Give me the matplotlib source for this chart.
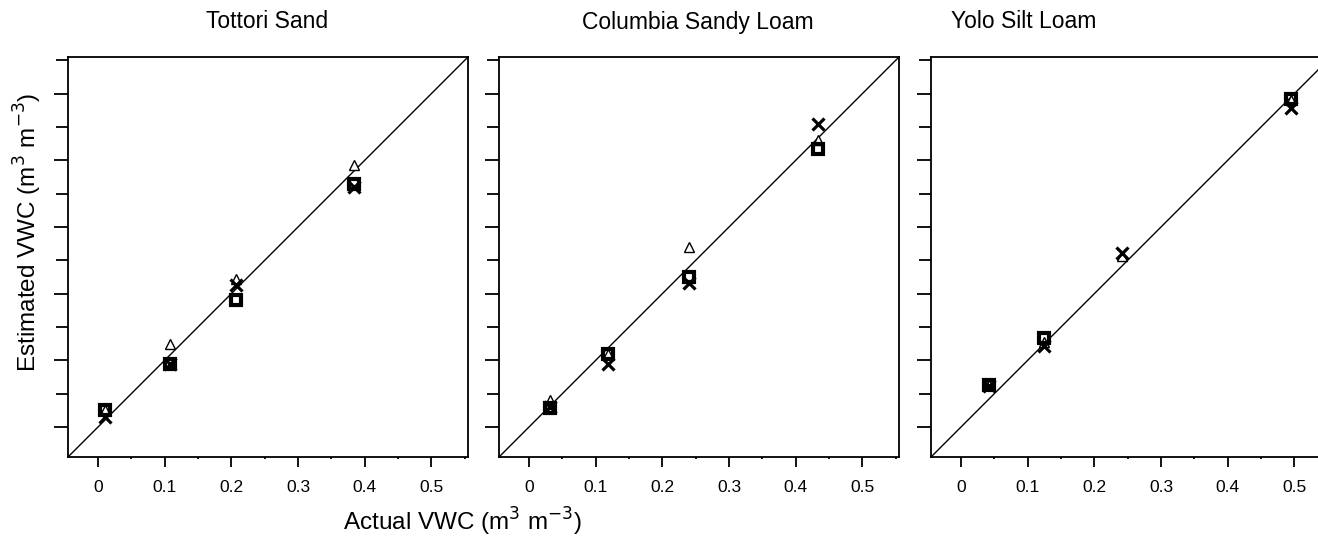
import matplotlib
matplotlib.use("Agg")
import matplotlib.pyplot as plt
import numpy as np
from matplotlib.ticker import MultipleLocator

plt.rcParams['font.family'] = ['Liberation Sans', 'DejaVu Sans']

soils = ["Tottori Sand", "Columbia Sandy Loam", "Yolo Silt Loam"]

# actual VWC for each soil
actual = [
    [0.0105, 0.108, 0.207, 0.3845],
    [0.0315, 0.118, 0.2405, 0.433],
    [0.0415, 0.124, 0.242, 0.4945],
]
# estimated VWC, one list per method
est_square = [
    [0.026, 0.094, 0.190, 0.365],
    [0.029, 0.109, 0.225, 0.417],
    [0.0635, 0.134, np.nan, 0.4925],
]
est_cross = [
    [0.015, 0.094, 0.2125, 0.360],
    [0.030, 0.095, 0.216, 0.454],
    [0.062, 0.121, 0.261, 0.479],
]
est_triangle = [
    [0.025, 0.125, 0.2225, 0.3925],
    [0.040, 0.109, 0.270, 0.430],
    [0.063, 0.128, 0.256, 0.490],
]

xtick_vals = [0, 0.1, 0.2, 0.3, 0.4, 0.5]
xtick_labels = ["0", "0.1", "0.2", "0.3", "0.4", "0.5"]
lims = (-0.045, 0.555)

W, H = 1318, 538
fig = plt.figure(figsize=(W / 100, H / 100), dpi=100)

lefts = [68, 499, 931]
title_x = [267, 698, 1024]
for i in range(3):
    ax = fig.add_axes([lefts[i] / W, (H - 457) / H, 400 / W, 400 / H])
    ax.plot(lims, lims, color='black', lw=1.0, zorder=1)
    ax.plot(actual[i], est_triangle[i], linestyle='none', marker='^', ms=7.5,
            mfc='white', mec='black', mew=1.0, zorder=2)
    ax.plot(actual[i], est_square[i], linestyle='none', marker='s', ms=7.5,
            mfc='none', mec='black', mew=3.0, zorder=3)
    ax.plot(actual[i], est_cross[i], linestyle='none', marker='x', ms=9,
            mec='black', mew=2.3, zorder=4)
    ax.set_xlim(lims)
    ax.set_ylim(lims)
    ax.set_xticks(xtick_vals)
    ax.set_xticklabels(xtick_labels)
    ax.xaxis.set_minor_locator(MultipleLocator(0.05))
    ax.yaxis.set_major_locator(MultipleLocator(0.1))
    ax.yaxis.set_minor_locator(MultipleLocator(0.05))
    ax.set_yticklabels([])
    ax.tick_params(axis='x', which='major', direction='out', length=7.5,
                   width=1.3, pad=9, labelsize=12.5)
    ax.tick_params(axis='x', which='minor', direction='out', length=1.5, width=1.3)
    ax.tick_params(axis='y', which='major', direction='out', length=10, width=1.3)
    ax.tick_params(axis='y', which='minor', direction='out', length=9, width=1.3)
    for s in ax.spines.values():
        s.set_linewidth(1.3)
    fig.text(title_x[i] / W, 1 - 22 / H, soils[i], ha='center', va='center',
             fontsize=16.5)

fig.text(462 / W, 1 - 522 / H, r"Actual VWC (m$^{3}$ m$^{-3}$)", ha='center',
         va='center', fontsize=17.5)
fig.text(28 / W, 1 - 232 / H, r"Estimated VWC (m$^{3}$ m$^{-3}$)", ha='center',
         va='center', rotation=90, fontsize=17.5)

fig.savefig("out.png", dpi=100)
